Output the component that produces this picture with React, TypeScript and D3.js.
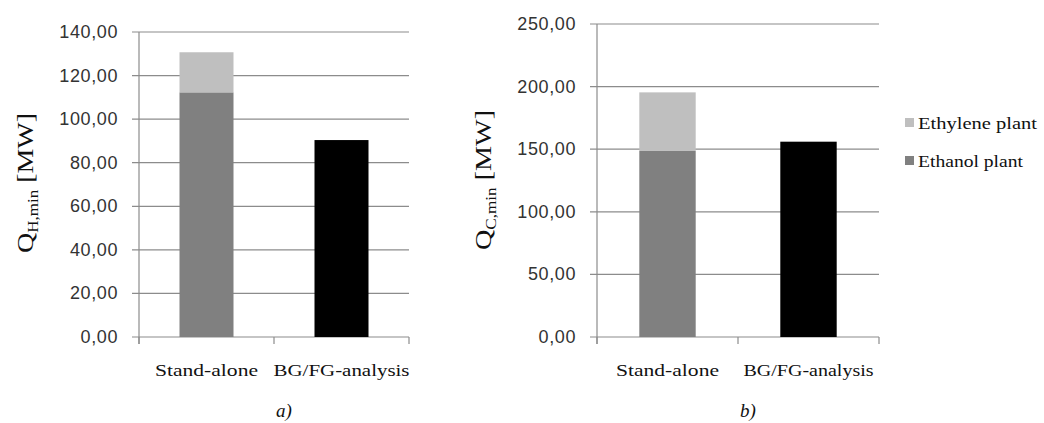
import React, { useEffect, useRef } from 'react';
import * as d3 from 'd3';

// categories and series (MW)
const categories = ['Stand-alone', 'BG/FG-analysis'];
const seriesKeys = ['ethanol', 'ethylene', 'combined'];
const legendNames = ['Ethylene plant', 'Ethanol plant'];

const heatEthanol = [112.3, 0];
const heatEthylene = [18.4, 0];
const heatCombined = [0, 90.4];
const heatTicks = [0, 20, 40, 60, 80, 100, 120, 140];

const coolEthanol = [148.6, 0];
const coolEthylene = [46.8, 0];
const coolCombined = [0, 156.0];
const coolTicks = [0, 50, 100, 150, 200, 250];

const colors = { ethanol: '#808080', ethylene: '#bfbfbf', combined: '#000000' };

const fmt = (v: number) => d3.format('.2f')(v).replace('.', ',');

const drawPanel = (svg: any, opts: any) => {
  const { left, right, top, bottom, ticks, ethanol, ethylene, combined, sub, caption, labelX, labelY, catWidths } = opts;
  const rows = categories.map((c, i) => ({ cat: c, ethanol: ethanol[i], ethylene: ethylene[i], combined: combined[i] }));
  const stacked = d3.stack<any>().keys(seriesKeys)(rows);

  const x = d3.scaleBand().domain(categories).range([left, right]).paddingInner(0.6).paddingOuter(0.3);
  const y = d3.scaleLinear().domain([0, d3.max(ticks) as number]).range([bottom, top]);
  const g = svg.append('g');

  // gridlines
  g.selectAll('line.grid').data(ticks).enter().append('line')
    .attr('x1', left - 7).attr('x2', right)
    .attr('y1', (d: number) => y(d)).attr('y2', (d: number) => y(d))
    .attr('stroke', '#8c8c8c').attr('stroke-width', 1.2);

  // y axis line
  g.append('line').attr('x1', left).attr('x2', left).attr('y1', top).attr('y2', bottom + 7)
    .attr('stroke', '#8c8c8c').attr('stroke-width', 1.2);

  // category separator ticks
  const step = x.step();
  [left, left + (right - left) / 2, right].forEach((tx) => {
    g.append('line').attr('x1', tx).attr('x2', tx).attr('y1', bottom).attr('y2', bottom + 7)
      .attr('stroke', '#8c8c8c').attr('stroke-width', 1.2);
  });

  // tick labels
  g.selectAll('text.tick').data(ticks).enter().append('text')
    .attr('x', left - 21).attr('y', (d: number) => y(d) + 6)
    .attr('text-anchor', 'end')
    .style('font-family', '"Liberation Sans", Arial, sans-serif')
    .style('font-size', '18px').style('letter-spacing', '0.6px')
    .attr('fill', '#333')
    .text((d: number) => fmt(d));

  // bars
  stacked.forEach((s: any) => {
    g.selectAll(null).data(s).enter().append('rect')
      .attr('x', (d: any) => x(d.data.cat))
      .attr('width', x.bandwidth())
      .attr('y', (d: any) => y(d[1]))
      .attr('height', (d: any) => y(d[0]) - y(d[1]))
      .attr('fill', (colors as any)[s.key]);
  });

  // category labels
  categories.forEach((c, i) => {
    g.append('text')
      .attr('x', (x(c) as number) + x.bandwidth() / 2).attr('y', bottom + 39)
      .attr('text-anchor', 'middle')
      .attr('textLength', catWidths[i]).attr('lengthAdjust', 'spacingAndGlyphs')
      .style('font-family', '"Liberation Serif", "Times New Roman", serif')
      .style('font-size', '17px').attr('fill', '#111')
      .text(c);
  });

  // caption
  g.append('text')
    .attr('x', left + (right - left) / 2 + 10).attr('y', bottom + 80)
    .attr('text-anchor', 'middle')
    .style('font-family', '"Liberation Serif", "Times New Roman", serif')
    .style('font-size', '19px').style('font-style', 'italic').attr('fill', '#111')
    .text(caption);

  // y label
  const t = g.append('text')
    .attr('transform', `translate(${labelX},${labelY}) rotate(-90)`)
    .attr('text-anchor', 'middle')
    .attr('textLength', 140).attr('lengthAdjust', 'spacingAndGlyphs')
    .style('font-family', '"Liberation Serif", "Times New Roman", serif')
    .style('font-size', '23px').attr('fill', '#111');
  t.append('tspan').text('Q');
  t.append('tspan').attr('dy', 5).style('font-size', '14px').text(sub);
  t.append('tspan').attr('dy', -5).text(' [MW]');
};

const App = () => {
  const svgRef = useRef<SVGSVGElement>(null);

  useEffect(() => {
    const svg = d3.select(svgRef.current);
    svg.selectAll('*').remove();

    drawPanel(svg, {
      left: 139, right: 409, top: 32, bottom: 337,
      ticks: heatTicks, ethanol: heatEthanol, ethylene: heatEthylene, combined: heatCombined,
      sub: 'H,min', caption: 'a)', labelX: 33, labelY: 183, catWidths: [103, 136],
    });
    drawPanel(svg, {
      left: 597, right: 879, top: 24, bottom: 337,
      ticks: coolTicks, ethanol: coolEthanol, ethylene: coolEthylene, combined: coolCombined,
      sub: 'C,min', caption: 'b)', labelX: 491, labelY: 180, catWidths: [103, 130],
    });

    // legend
    const legend = svg.append('g');
    const legendColors = [colors.ethylene, colors.ethanol];
    legendNames.forEach((name, i) => {
      const ly = 123 + i * 38;
      legend.append('rect').attr('x', 905).attr('y', ly - 5).attr('width', 9).attr('height', 9)
        .attr('fill', legendColors[i]);
      legend.append('text').attr('x', 918).attr('y', ly + 6)
        .attr('textLength', i === 0 ? 119 : 105).attr('lengthAdjust', 'spacingAndGlyphs')
        .style('font-family', '"Liberation Serif", "Times New Roman", serif')
        .style('font-size', '17px').attr('fill', '#111')
        .text(name);
    });
  }, []);

  return (
    <svg
      ref={svgRef}
      width={1044}
      height={423}
      style={{ position: 'absolute', left: 0, top: 0, background: '#fff' }}
    />
  );
};

export default App;
